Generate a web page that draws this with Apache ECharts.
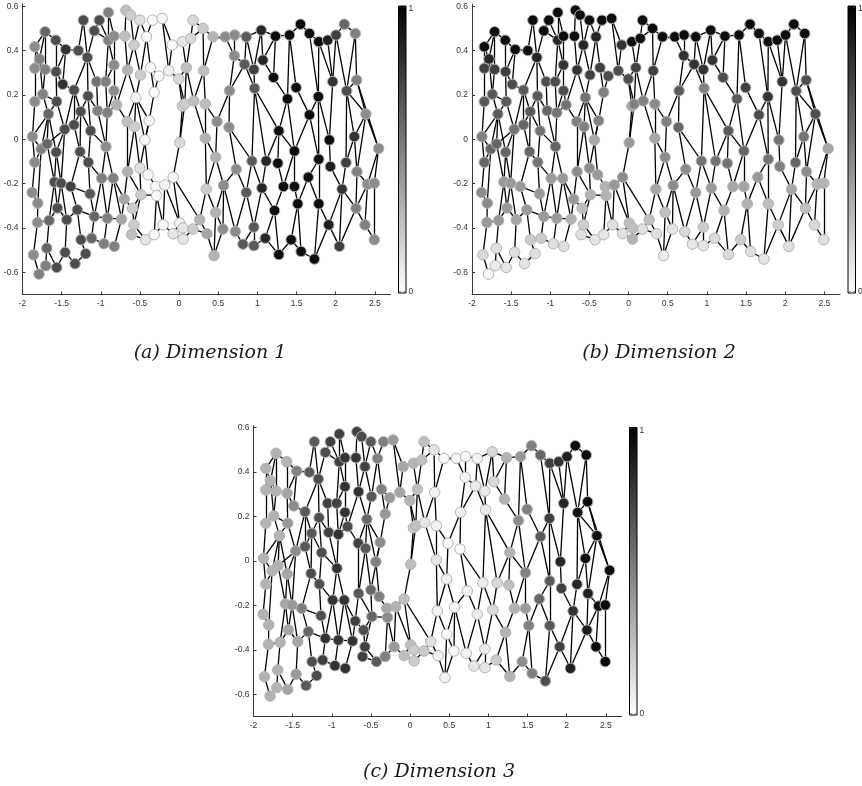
<!DOCTYPE html>
<html>
<head>
<meta charset="utf-8">
<script src="https://cdn.jsdelivr.net/npm/echarts@6/dist/echarts.min.js"></script>
<style>
  html, body { margin: 0; padding: 0; background: #ffffff; }
  #chart { width: 862px; height: 786px; }
</style>
</head>
<body>
<div id="chart"></div>
<script>
// Embedded sample coordinates (shared by all three panels)
const X = [
  -1.873,-1.877,-1.843,-1.843,-1.843,-1.843,-1.86,-1.805,-1.809,-1.788,
  -1.783,-1.762,-1.741,-1.711,-1.711,-1.703,-1.69,-1.686,-1.669,-1.66,
  -1.592,-1.575,-1.571,-1.57,-1.563,-1.563,-1.554,-1.507,-1.486,-1.461,
  -1.456,-1.448,-1.435,-1.384,-1.342,-1.342,-1.329,-1.3,-1.287,-1.265,
  -1.257,-1.253,-1.223,-1.193,-1.172,-1.163,-1.159,-1.138,-1.13,-1.117,
  -1.083,-1.083,-1.053,-1.04,-1.019,-0.989,-0.96,-0.938,-0.934,-0.917,
  -0.917,-0.904,-0.904,-0.841,-0.832,-0.832,-0.832,-0.828,-0.798,-0.735,
  -0.701,-0.692,-0.679,-0.662,-0.658,-0.658,-0.62,-0.607,-0.594,-0.577,
  -0.577,-0.569,-0.552,-0.501,-0.501,-0.493,-0.488,-0.437,-0.429,-0.416,
  -0.395,-0.382,-0.365,-0.34,-0.318,-0.318,-0.297,-0.288,-0.259,-0.217,
  -0.204,-0.183,-0.132,-0.089,-0.076,-0.076,-0.004,0.008,0.008,0.042,
  0.042,0.051,0.051,0.072,0.093,0.149,0.178,0.178,0.187,0.263,
  0.306,0.314,0.335,0.335,0.348,0.357,0.433,0.446,0.467,0.467,
  0.484,0.56,0.569,0.59,0.637,0.645,0.705,0.709,0.718,0.73,
  0.815,0.837,0.858,0.858,0.93,0.955,0.955,0.955,0.964,1.049,
  1.057,1.07,1.1,1.112,1.206,1.219,1.231,1.261,1.274,1.274,
  1.333,1.384,1.41,1.431,1.473,1.473,1.495,1.516,1.55,1.558,
  1.65,1.665,1.665,1.728,1.779,1.784,1.784,1.784,1.898,1.911,
  1.919,1.932,1.962,2.004,2.047,2.081,2.11,2.132,2.14,2.238,
  2.25,2.259,2.268,2.272,2.374,2.386,2.407,2.493,2.493,2.548
];
const Y = [
  0.012,-0.24,0.417,0.32,0.17,-0.104,-0.521,-0.288,-0.375,-0.608,
  0.362,-0.044,0.203,0.485,0.315,-0.57,-0.491,-0.021,0.114,-0.366,
  -0.193,0.447,0.305,-0.058,0.17,-0.578,-0.31,-0.198,0.248,0.045,
  -0.51,0.405,-0.363,-0.213,0.222,0.065,-0.561,-0.318,0.4,-0.056,
  0.125,-0.453,0.537,-0.516,0.369,0.195,-0.104,-0.246,0.038,-0.446,
  0.489,-0.348,0.26,0.129,0.537,-0.176,-0.471,0.26,-0.033,0.12,
  -0.356,0.572,0.447,-0.176,0.465,0.335,0.219,-0.483,0.155,-0.36,
  -0.27,0.465,0.582,0.08,0.312,-0.146,0.56,-0.43,-0.311,0.425,
  -0.386,0.057,0.188,0.537,-0.13,0.29,-0.25,-0.003,-0.453,0.462,
  -0.16,0.084,0.323,0.537,0.212,-0.43,-0.213,-0.254,0.285,0.545,
  -0.386,-0.206,0.309,0.425,-0.171,-0.426,0.272,-0.378,-0.015,0.44,
  0.15,-0.4,-0.45,0.159,0.323,0.455,0.537,-0.405,0.173,-0.363,
  0.5,0.309,0.159,0.005,-0.225,-0.426,0.462,-0.525,-0.081,-0.33,
  0.08,-0.405,-0.208,0.462,0.054,0.219,0.377,0.47,-0.416,-0.135,
  -0.473,0.338,0.462,-0.24,-0.098,0.315,-0.396,-0.48,0.23,0.492,
  -0.22,0.357,-0.446,-0.098,0.279,-0.321,0.465,-0.108,0.038,-0.52,
  -0.213,0.182,0.47,-0.453,-0.053,-0.213,0.233,-0.291,0.519,-0.506,
  -0.171,0.11,0.477,-0.54,0.192,0.44,-0.09,-0.291,0.447,-0.386,
  -0.003,-0.123,0.26,0.47,-0.483,-0.225,0.519,-0.105,0.218,0.012,
  0.477,-0.311,0.267,-0.146,-0.386,0.114,-0.203,-0.453,-0.198,-0.042
];

// Per-point value of each embedding dimension (0 = white, 1 = black)
const DIM1 = [
  .45,.45,.45,.45,.45,.45,.45,.45,.45,.5,
  .5,.5,.5,.6,.5,.5,.6,.6,.6,.6,
  .7,.7,.7,.7,.7,.7,.7,.7,.8,.7,
  .7,.8,.7,.75,.7,.7,.7,.7,.7,.7,
  .7,.7,.7,.7,.7,.7,.7,.65,.7,.6,
  .7,.6,.55,.5,.7,.5,.5,.5,.45,.5,
  .5,.5,.5,.5,.45,.45,.45,.5,.3,.35,
  .35,.25,.25,.25,.3,.3,.2,.25,.2,.2,
  .2,.2,.05,.12,.12,.2,.2,.03,.1,.03,
  .03,.03,.03,.02,.02,.03,.03,.03,.02,.03,
  .03,.03,.05,.02,.03,.1,.15,.05,.15,.1,
  .15,.1,.1,.2,.25,.15,.15,.2,.25,.3,
  .2,.25,.25,.3,.2,.35,.3,.3,.3,.3,
  .45,.45,.45,.45,.45,.45,.45,.45,.45,.45,
  .65,.65,.65,.65,.65,.75,.65,.65,.65,.85,
  .85,.85,.85,.85,.95,.95,.95,.95,.95,.95,
  .95,.95,.95,.95,.95,.95,.95,.95,.97,.95,
  .95,.95,.95,.95,.95,.95,.95,.95,.88,.88,
  .95,.88,.8,.75,.75,.8,.6,.75,.7,.8,
  .5,.5,.5,.5,.5,.45,.45,.45,.45,.45
];
const DIM2 = [
  .5,.45,.95,.75,.65,.6,.15,.45,.4,.03,
  .85,.6,.65,.95,.75,.08,.12,.6,.65,.4,
  .4,.95,.75,.6,.65,.1,.4,.4,.7,.55,
  .12,.95,.35,.4,.65,.6,.1,.4,.95,.6,
  .65,.2,.95,.12,.85,.65,.55,.4,.55,.2,
  .95,.4,.7,.6,.95,.4,.12,.7,.6,.55,
  .4,.95,.85,.4,.95,.8,.7,.12,.55,.3,
  .4,.95,.95,.5,.8,.45,.95,.12,.25,.85,
  .2,.5,.55,.95,.45,.75,.3,.35,.1,.85,
  .4,.5,.75,.95,.5,.1,.3,.3,.7,.95,
  .12,.4,.7,.8,.45,.12,.7,.25,.4,.95,
  .35,.25,.3,.5,.75,.95,.95,.12,.5,.25,
  .95,.75,.45,.35,.35,.12,.95,.08,.45,.25,
  .5,.1,.45,.95,.6,.65,.8,.95,.15,.45,
  .1,.8,.95,.4,.55,.8,.2,.1,.5,.95,
  .4,.8,.15,.55,.7,.3,.95,.55,.65,.15,
  .35,.65,.95,.2,.6,.35,.75,.3,.97,.12,
  .4,.7,.95,.1,.8,.95,.55,.25,.95,.2,
  .55,.5,.8,.95,.12,.35,.97,.6,.7,.55,
  .95,.25,.7,.45,.15,.7,.3,.12,.3,.35
];
const DIM3 = [
  .3,.3,.3,.3,.3,.3,.3,.3,.3,.3,
  .3,.3,.3,.3,.3,.3,.3,.3,.3,.3,
  .35,.3,.35,.35,.4,.35,.35,.4,.45,.45,
  .4,.5,.35,.5,.65,.65,.65,.6,.65,.7,
  .65,.7,.65,.7,.7,.7,.7,.7,.7,.75,
  .7,.8,.75,.75,.75,.8,.8,.75,.8,.8,
  .8,.75,.75,.8,.8,.8,.8,.8,.7,.8,
  .75,.8,.75,.75,.8,.65,.7,.75,.7,.75,
  .75,.65,.6,.65,.6,.65,.6,.5,.65,.5,
  .5,.45,.5,.5,.4,.5,.35,.45,.4,.4,
  .4,.3,.35,.35,.25,.25,.3,.25,.25,.3,
  .2,.2,.2,.25,.25,.25,.25,.2,.1,.12,
  .1,.05,.05,.1,.05,.05,.03,.05,.05,.03,
  .03,.03,.03,.03,.03,.05,.03,.03,.05,.05,
  .1,.08,.05,.08,.08,.08,.08,.1,.08,.15,
  .15,.15,.2,.15,.3,.3,.3,.25,.3,.3,
  .3,.45,.4,.45,.5,.4,.5,.5,.5,.5,
  .6,.65,.6,.7,.75,.75,.65,.65,.8,.75,
  .85,.75,.85,.88,.88,.8,.95,.85,.93,.95,
  .95,.9,.95,.88,.95,.93,.95,.97,.97,.95
];

// Neighbourhood graph: pairs of point indices
const EDGES = [
  [42,38],[42,44],[54,50],[54,62],[61,62],[61,64],[72,71],[72,76],[76,79],[83,89],
  [83,79],[93,89],[93,99],[99,103],[116,115],[116,120],[120,126],[120,115],[168,162],[168,172],
  [186,183],[186,190],
  [126,133],[133,137],[137,142],[142,149],[149,156],[156,162],[172,175],[175,178],[178,183],
  [2,13],[13,21],[21,31],[31,38],[62,64],[64,71],[103,109],[109,115],[50,62],
  [3,2],[3,10],[10,2],[10,13],[14,10],[14,13],[22,21],[22,31],[44,38],[44,50],
  [65,64],[65,62],[74,71],[74,79],[85,89],[85,79],[92,89],[98,92],[102,103],[102,99],
  [114,109],[114,115],[121,120],[121,126],[136,137],[136,133],[141,142],[141,136],[145,142],[145,149],
  [151,149],[151,156],[154,156],[154,151],[162,161],[162,166],[172,174],[175,174],[175,182],[178,182],
  [183,182],[183,188],[190,192],[190,188],[31,28],
  [4,3],[4,12],[12,14],[12,10],[24,22],[24,12],[28,22],[34,28],[34,44],[45,44],
  [52,44],[52,57],[57,65],[57,62],[66,65],[68,66],[68,74],[82,74],[82,85],[94,92],
  [94,98],[106,102],[106,114],[110,106],[113,114],[113,106],[118,114],[118,121],[122,121],[135,136],
  [135,141],[148,145],[148,141],[161,154],[192,188],
  [0,4],[0,18],[18,12],[18,24],[29,24],[29,34],[35,34],[35,40],[40,34],[40,45],
  [48,45],[48,40],[53,52],[53,45],[59,57],[59,66],[59,68],[73,68],[73,82],[81,82],
  [91,94],[91,82],[123,122],[123,118],[130,122],[130,135],[134,135],[158,161],[158,148],[171,174],
  [171,166],[195,192],[195,188],[189,188],[189,195],[110,108],[110,113],[113,118],
  [5,0],[5,11],[11,0],[11,18],[17,18],[17,29],[23,29],[23,18],[39,35],[39,40],
  [46,48],[46,39],[58,59],[58,53],[58,48],[75,73],[75,81],[84,81],[84,91],[87,91],
  [87,82],[108,113],[128,130],[128,123],[139,134],[144,148],[144,134],[153,158],[153,148],[157,158],
  [164,161],[164,171],[164,158],[176,171],[176,174],[180,182],[180,174],[181,180],[187,189],[187,188],
  [193,189],[193,195],[199,195],[199,192],
  [1,5],[7,1],[7,11],[20,23],[20,17],[27,23],[27,29],[33,39],[33,27],[47,46],
  [47,33],[55,58],[55,46],[63,58],[63,55],[70,75],[70,63],[86,84],[86,75],[90,87],
  [90,84],[96,90],[97,96],[97,86],[101,96],[101,104],[104,108],[124,123],[124,128],[132,128],
  [132,139],[143,139],[143,144],[150,153],[150,144],[160,157],[160,164],[165,164],[167,165],[167,170],
  [170,176],[177,176],[177,170],[185,181],[185,187],[196,193],[196,199],[198,199],[198,196],
  [8,7],[8,19],[19,26],[19,20],[26,20],[26,27],[26,32],[32,27],[32,37],[37,33],
  [37,51],[51,47],[51,55],[51,60],[60,55],[60,63],[60,69],[69,70],[69,63],[78,70],
  [78,86],[80,78],[80,86],[100,97],[100,101],[107,104],[107,101],[111,107],[111,117],[117,119],
  [119,124],[119,104],[129,124],[129,132],[131,129],[131,132],[138,132],[138,143],[146,143],[146,150],
  [155,150],[155,160],[179,177],[179,185],[191,185],[191,196],[191,193],[194,196],[194,191],
  [6,8],[6,9],[9,15],[15,16],[15,25],[16,19],[16,25],[25,30],[30,32],[30,36],
  [36,43],[41,37],[41,43],[41,49],[49,51],[49,56],[56,60],[56,67],[67,69],[77,80],
  [77,88],[88,80],[88,95],[95,100],[95,97],[105,100],[105,107],[105,112],[112,111],[112,117],
  [125,119],[125,117],[125,127],[127,129],[127,131],[140,138],[140,146],[140,147],[147,146],[147,152],
  [152,155],[152,159],[159,155],[159,163],[163,167],[163,169],[169,167],[169,173],[173,177],[173,179],
  [184,179],[184,185],[184,191],[197,194],[197,198]
];

const X_TICKS = [-2, -1.5, -1, -0.5, 0, 0.5, 1, 1.5, 2, 2.5];
const Y_TICKS = [-0.6, -0.4, -0.2, 0, 0.2, 0.4, 0.6];
const CAPTIONS = ['(a) Dimension 1', '(b) Dimension 2', '(c) Dimension 3'];
const DIMENSIONS = [DIM1, DIM2, DIM3];

// Panel placement in pixels
const PANELS = [
  { left: 22.5, top: 4, width: 368, height: 290.5, captionX: 210, captionY: 353 },
  { left: 472,  top: 4, width: 368, height: 290.5, captionX: 659, captionY: 353 },
  { left: 253.5, top: 425.5, width: 368, height: 291, captionX: 439, captionY: 772 }
];

const AXIS_COLOR = '#3a3a3a';
const LABEL_FONT = { fontSize: 8.5, color: '#333333', fontFamily: '"Liberation Sans", Arial, sans-serif' };

const grids = [], xAxes = [], yAxes = [], series = [], visualMaps = [], graphics = [];

PANELS.forEach((p, k) => {
  grids.push({ left: p.left, top: p.top, width: p.width, height: p.height });

  xAxes.push({
    type: 'value', gridIndex: k, min: -2, max: 2.7,
    axisLine: { show: true, onZero: false, lineStyle: { color: AXIS_COLOR, width: 1 } },
    axisTick: { show: true, inside: true, length: 3, customValues: X_TICKS, lineStyle: { color: AXIS_COLOR } },
    axisLabel: Object.assign({ customValues: X_TICKS, margin: 5, formatter: v => String(v) }, LABEL_FONT),
    splitLine: { show: false }
  });
  yAxes.push({
    type: 'value', gridIndex: k, min: -0.7, max: 0.61,
    axisLine: { show: true, onZero: false, lineStyle: { color: AXIS_COLOR, width: 1 } },
    axisTick: { show: true, inside: true, length: 3, customValues: Y_TICKS, lineStyle: { color: AXIS_COLOR } },
    axisLabel: Object.assign({ customValues: Y_TICKS, margin: 4, formatter: v => String(v) }, LABEL_FONT),
    splitLine: { show: false }
  });

  const vals = DIMENSIONS[k];
  series.push({
    type: 'lines', coordinateSystem: 'cartesian2d', xAxisIndex: k, yAxisIndex: k,
    silent: true, z: 1,
    lineStyle: { color: '#000000', width: 1.3, opacity: 1 },
    data: EDGES.map(([i, j]) => ({ coords: [[X[i], Y[i]], [X[j], Y[j]]] }))
  });
  series.push({
    type: 'scatter', xAxisIndex: k, yAxisIndex: k, z: 2, clip: false,
    symbol: 'circle', symbolSize: 10.5,
    itemStyle: { borderColor: '#b4b4b4', borderWidth: 1, opacity: 1 },
    data: X.map((x, i) => [x, Y[i], vals[i]])
  });
  visualMaps.push({
    type: 'continuous', show: false, min: 0, max: 1, dimension: 2,
    seriesIndex: 2 * k + 1,
    inRange: { color: ['#ffffff', '#000000'] }
  });

  // Colour bar beside the panel
  const bx = p.left + 376, by = p.top + 2, bh = p.height - 3.5;
  graphics.push({
    type: 'rect', shape: { x: bx, y: by, width: 7.5, height: bh },
    style: {
      fill: { type: 'linear', x: 0, y: 0, x2: 0, y2: 1,
        colorStops: [{ offset: 0, color: '#000000' }, { offset: 1, color: '#ffffff' }] },
      stroke: '#000000', lineWidth: 1
    }
  });
  [by + 1, by + bh - 1.5].forEach(ty => {
    graphics.push({ type: 'line', shape: { x1: bx + 0.5, y1: ty, x2: bx + 2.5, y2: ty }, style: { stroke: '#555', lineWidth: 0.6 } });
    graphics.push({ type: 'line', shape: { x1: bx + 5, y1: ty, x2: bx + 7, y2: ty }, style: { stroke: '#555', lineWidth: 0.6 } });
  });
  graphics.push({ type: 'text', x: bx + 10, y: by + 3,
    style: { text: '1', fontSize: 8.5, fill: '#333', fontFamily: LABEL_FONT.fontFamily, verticalAlign: 'middle' } });
  graphics.push({ type: 'text', x: bx + 10, y: by + bh - 1,
    style: { text: '0', fontSize: 8.5, fill: '#333', fontFamily: LABEL_FONT.fontFamily, verticalAlign: 'middle' } });

  // Caption under the panel
  graphics.push({ type: 'text', x: p.captionX, y: p.captionY,
    style: { text: CAPTIONS[k], font: 'italic 19px "DejaVu Serif", serif', fill: '#1a1a1a',
      align: 'center', verticalAlign: 'middle' } });
});

const chart = echarts.init(document.getElementById('chart'), null, { renderer: 'canvas' });
chart.setOption({
  animation: false,
  backgroundColor: '#ffffff',
  grid: grids,
  xAxis: xAxes,
  yAxis: yAxes,
  visualMap: visualMaps,
  series: series,
  graphic: graphics
});
</script>
</body>
</html>
